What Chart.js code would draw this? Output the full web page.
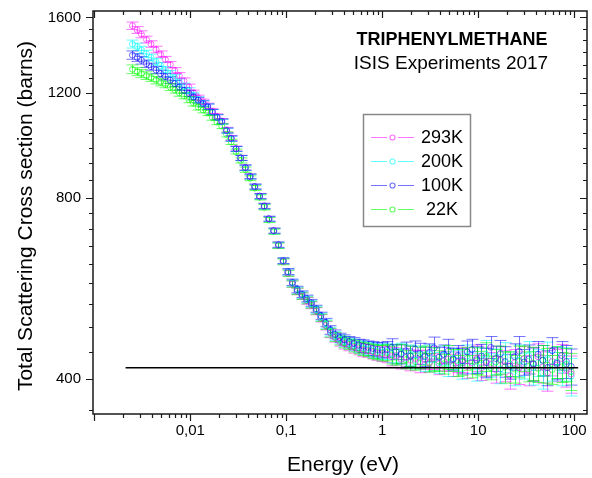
<!DOCTYPE html>
<html>
<head>
<meta charset="utf-8">
<script src="https://cdn.jsdelivr.net/npm/chart.js@4.4.0/dist/chart.umd.min.js"></script>
<style>
  html, body { margin: 0; padding: 0; background: #fff; }
  canvas { display: block; }
</style>
</head>
<body>
<canvas id="xsChart" width="592" height="478"></canvas>
<script>
'use strict';
// energies in eV, shared by all four temperatures
var energies = [
  0.0025, 0.0028, 0.0031, 0.0035, 0.0039, 0.0044, 0.0049, 0.0055, 0.0062, 0.0069, 0.0077, 0.0086, 0.0097, 0.0108,
  0.0121, 0.0136, 0.0152, 0.017, 0.019, 0.0213, 0.0239, 0.0267, 0.03, 0.0335, 0.0375, 0.042, 0.047, 0.0527, 0.059, 0.066,
  0.074, 0.083, 0.093, 0.104, 0.116, 0.13, 0.146, 0.163, 0.183, 0.205, 0.229, 0.257, 0.288, 0.322, 0.361, 0.404, 0.452,
  0.507, 0.567, 0.635, 0.711, 0.797, 0.892, 1.0,
  1.12, 1.25, 1.4, 1.57, 1.76, 1.97, 2.21, 2.47, 2.77, 3.1, 3.47, 3.89, 4.36, 4.88, 5.47, 6.12, 6.86, 7.68, 8.6, 9.63,
  10.8, 12.1, 13.5, 15.2, 17, 19, 21.3, 23.9, 26.7, 29.9, 33.5, 37.5, 42, 47.1, 52.7, 59, 66.1, 74, 82.9, 92.9
];

var xs293 = [
  1550, 1525, 1500, 1470, 1445, 1415, 1390, 1362, 1335, 1305, 1280, 1255, 1225, 1198,
  1175, 1158, 1140, 1118, 1095, 1076, 1040, 1008, 968, 934, 900, 870, 836, 806, 776, 739, 706, 668, 628, 601,
  576, 560, 550, 540, 531, 519, 505, 491, 477, 469, 462, 458, 455, 452, 449, 447, 446, 444, 442, 441,
  440, 436, 438, 432, 435, 430, 433, 428, 431, 426, 434, 424, 429, 432, 422, 427, 431, 420, 426, 434,
  418, 428, 424, 415, 430, 421, 405, 426, 418, 432, 414, 424, 436, 419, 410, 428, 422, 433, 415, 408
];
var xs200 = [
  1445, 1430, 1412, 1392, 1372, 1350, 1330, 1310, 1290, 1270, 1250, 1230, 1208, 1188,
  1168, 1152, 1137, 1114, 1092, 1073, 1037, 1005, 966, 933, 899, 869, 836, 805, 775, 738, 705, 668, 629, 603,
  578, 562, 552, 543, 534, 522, 508, 494, 480, 472, 466, 462, 459, 456, 453, 451, 449, 447, 445, 444,
  445, 441, 437, 443, 434, 439, 430, 436, 428, 441, 432, 426, 438, 424, 433, 429, 421, 437, 427, 419,
  431, 440, 422, 428, 416, 435, 424, 412, 430, 421, 438, 418, 426, 410, 433, 420, 427, 414, 424, 404
];
var xs100 = [
  1385, 1372, 1358, 1340, 1325, 1308, 1290, 1275, 1258, 1242, 1225, 1210, 1195, 1180,
  1165, 1150, 1136, 1113, 1091, 1074, 1037, 1006, 967, 934, 900, 870, 837, 807, 777, 740, 707, 670, 630, 604,
  580, 564, 554, 545, 536, 524, 510, 497, 483, 475, 469, 465, 462, 459, 456, 454, 452, 450, 448, 447,
  448, 452, 444, 440, 446, 437, 449, 441, 436, 443, 451, 435, 440, 446, 432, 438, 429, 444, 448, 431,
  437, 426, 452, 433, 441, 428, 420, 436, 445, 427, 432, 424, 440, 430, 418, 446, 425, 438, 428, 420
];
var xs22 = [
  1312, 1300, 1290, 1280, 1270, 1258, 1248, 1238, 1225, 1212, 1198, 1185, 1168, 1152,
  1135, 1122, 1110, 1090, 1072, 1055, 1022, 993, 957, 925, 893, 864, 832, 803, 773, 736, 704, 667, 627, 600,
  576, 560, 550, 541, 532, 520, 506, 492, 478, 470, 464, 460, 457, 454, 451, 449, 447, 445, 443, 442,
  443, 439, 435, 441, 431, 437, 428, 434, 438, 426, 432, 429, 424, 435, 430, 421, 427, 433, 420, 429,
  425, 436, 418, 427, 431, 419, 424, 416, 428, 433, 420, 425, 417, 430, 422, 415, 427, 419, 423, 412
];
// error bar half heights (barns)
var xsErr = [
  22, 20, 20, 19, 18, 18, 17, 16, 16, 15, 15, 14, 14, 13,
  13, 12, 12, 11, 11, 10, 10, 10, 9, 9, 9, 8, 8, 8, 8, 7, 7, 7, 7, 7,
  7, 7, 7, 7, 7, 7, 7, 8, 8, 8, 8, 9, 9, 10, 10, 11, 11, 12, 12, 13,
  14, 15, 13, 16, 15, 17, 14, 18, 16, 15, 19, 17, 16, 20, 18, 17, 21, 19, 18, 22,
  20, 24, 19, 21, 23, 25, 20, 22, 26, 21, 24, 27, 22, 25, 28, 23, 26, 24, 27, 29
];

var seriesLabels = ['293K', '200K', '100K', '22K'];
var seriesColors = ['rgba(255,0,255,0.55)', 'rgba(0,255,255,0.6)', 'rgba(0,0,255,0.55)', 'rgba(0,255,0,0.6)'];

// reference level line
var refLevel = 418;
var refRange = [0.00212, 110];

var xTickValues = [0.01, 0.1, 1, 10, 100];
var xTickLabels = ['0,01', '0,1', '1', '10', '100'];
var yTickValues = [400, 800, 1200, 1600];
var yTickLabels = ['400', '800', '1200', '1600'];

var FONT = "'Liberation Sans', Arial, sans-serif";

function pts(vals) {
  return energies.map(function(e, i) { return { x: e, y: vals[i] }; });
}

// minor tick positions
function xTickList() {
  var t = [];
  for (var p = -3; p <= 2; p++) {
    for (var m = 1; m <= 9; m++) {
      var v = m * Math.pow(10, p);
      if (v >= 0.00097 && v <= 136) t.push({ value: v, major: m === 1 });
    }
  }
  return t;
}
function yTickList() {
  // major every 400, minor subdivisions as on the original axis
  var segs = [[400, 800, 9], [800, 1200, 7], [1200, 1600, 6]];
  var t = [{ value: 355.6, major: false }];
  segs.forEach(function(s) {
    var step = (s[1] - s[0]) / s[2];
    for (var k = 0; k < s[2]; k++) t.push({ value: s[0] + k * step, major: k === 0 });
  });
  t.push({ value: 1600, major: true });
  return t;
}

var frame = {
  id: 'frame',
  beforeDatasetsDraw: function(chart) {
    var ctx = chart.ctx, xS = chart.scales.x, yS = chart.scales.y, a = chart.chartArea;
    ctx.save();
    ctx.beginPath();
    ctx.rect(a.left, a.top, a.right - a.left, a.bottom - a.top);
    ctx.clip();
    ctx.lineWidth = 1;
    chart.data.datasets.forEach(function(ds) {
      if (!ds.err) return;
      ctx.strokeStyle = ds.borderColor;
      ds.data.forEach(function(p, i) {
        var px = Math.round(xS.getPixelForValue(p.x)) + 0.5;
        var y1 = yS.getPixelForValue(p.y + ds.err[i]);
        var y2 = yS.getPixelForValue(p.y - ds.err[i]);
        ctx.beginPath();
        ctx.moveTo(px, y1); ctx.lineTo(px, y2);
        ctx.moveTo(px - 6, y1); ctx.lineTo(px + 6, y1);
        ctx.moveTo(px - 6, y2); ctx.lineTo(px + 6, y2);
        ctx.stroke();
      });
    });
    ctx.restore();
  },
  afterDraw: function(chart) {
    var ctx = chart.ctx, xS = chart.scales.x, yS = chart.scales.y, a = chart.chartArea;
    ctx.save();
    ctx.strokeStyle = '#1a1a1a';
    ctx.lineWidth = 1.5;
    ctx.strokeRect(a.left, a.top, a.right - a.left, a.bottom - a.top);
    ctx.lineWidth = 1.2;
    ctx.beginPath();
    xTickList().forEach(function(t) {
      var px = Math.round(xS.getPixelForValue(t.value)) + 0.5;
      var len = t.major ? 7 : 4;
      ctx.moveTo(px, a.bottom); ctx.lineTo(px, a.bottom + len);
      ctx.moveTo(px, a.top); ctx.lineTo(px, a.top + len);
    });
    yTickList().forEach(function(t) {
      var py = Math.round(yS.getPixelForValue(t.value)) + 0.5;
      var len = t.major ? 7 : 4;
      ctx.moveTo(a.left, py); ctx.lineTo(a.left - len, py);
      ctx.moveTo(a.right, py); ctx.lineTo(a.right - len, py);
    });
    ctx.stroke();

    // axis titles
    ctx.fillStyle = '#000';
    ctx.font = '21px ' + FONT;
    ctx.textAlign = 'center';
    ctx.textBaseline = 'alphabetic';
    ctx.fillText('Energy (eV)', 343, 471);
    ctx.save();
    ctx.translate(32, 216);
    ctx.rotate(-Math.PI / 2);
    ctx.fillText('Total Scattering Cross section (barns)', 0, 0);
    ctx.restore();

    // sample label
    ctx.font = 'bold 18px ' + FONT;
    ctx.fillText('TRIPHENYLMETHANE', 452, 45);
    ctx.font = '19px ' + FONT;
    ctx.fillText('ISIS Experiments 2017', 451, 69);

    // legend box
    ctx.strokeStyle = '#888';
    ctx.lineWidth = 1.5;
    ctx.strokeRect(363.5, 114.5, 107, 112);
    ctx.font = '18px ' + FONT;
    ctx.textBaseline = 'middle';
    seriesLabels.forEach(function(lab, i) {
      var y = 137.5 + i * 24;
      ctx.strokeStyle = seriesColors[i];
      ctx.lineWidth = 1.2;
      ctx.beginPath();
      ctx.moveTo(371, y); ctx.lineTo(387, y);
      ctx.moveTo(398, y); ctx.lineTo(414, y);
      ctx.stroke();
      ctx.beginPath();
      ctx.arc(392.5, y, 2.5, 0, Math.PI * 2);
      ctx.stroke();
      ctx.fillStyle = '#000';
      ctx.fillText(lab, 442, y + 1);
    });
    ctx.restore();
  }
};

var datasets = [{
  type: 'line',
  label: 'ref',
  data: [{ x: refRange[0], y: refLevel }, { x: refRange[1], y: refLevel }],
  borderColor: '#000',
  borderWidth: 1.5,
  pointRadius: 0,
  order: 0
}];
var seriesData = [xs293, xs200, xs100, xs22];
var seriesOrder = [2, 3, 1, 4];
seriesData.forEach(function(vals, i) {
  datasets.push({
    label: seriesLabels[i],
    data: pts(vals),
    err: xsErr,
    showLine: false,
    borderColor: seriesColors[i],
    backgroundColor: 'rgba(0,0,0,0)',
    pointStyle: 'circle',
    pointRadius: 3,
    pointBorderWidth: 1,
    order: seriesOrder[i]
  });
});

var xsChart = new Chart(document.getElementById('xsChart').getContext('2d'), {
  type: 'scatter',
  data: { datasets: datasets },
  plugins: [frame],
  options: {
    responsive: false,
    animation: false,
    devicePixelRatio: 1,
    layout: { padding: { top: 11, right: 3, left: 0, bottom: 0 } },
    plugins: { legend: { display: false }, tooltip: { enabled: false } },
    scales: {
      x: {
        type: 'logarithmic',
        min: 0.00097,
        max: 136,
        grid: { display: false, drawTicks: false },
        border: { display: false },
        afterBuildTicks: function(s) { s.ticks = xTickList().map(function(t) { return { value: t.value }; }); },
        afterFit: function(s) { s.height = 64; s.paddingLeft = 0; s.paddingRight = 0; },
        ticks: {
          autoSkip: false, maxRotation: 0, padding: 8, color: '#000',
          font: { family: FONT, size: 15 },
          callback: function(v) {
            for (var i = 0; i < xTickValues.length; i++) {
              if (Math.abs(v / xTickValues[i] - 1) < 1e-6) return xTickLabels[i];
            }
            return '';
          }
        }
      },
      y: {
        type: 'logarithmic',
        min: 350,
        max: 1640,
        grid: { display: false, drawTicks: false },
        border: { display: false },
        afterBuildTicks: function(s) { s.ticks = yTickList().map(function(t) { return { value: t.value }; }); },
        afterFit: function(s) { s.width = 93; s.paddingTop = 0; s.paddingBottom = 0; },
        ticks: {
          autoSkip: false, padding: 12, color: '#000',
          font: { family: FONT, size: 15 },
          callback: function(v) {
            for (var i = 0; i < yTickValues.length; i++) {
              if (Math.abs(v - yTickValues[i]) < 1e-6) return yTickLabels[i];
            }
            return '';
          }
        }
      }
    }
  }
});
</script>
</body>
</html>
